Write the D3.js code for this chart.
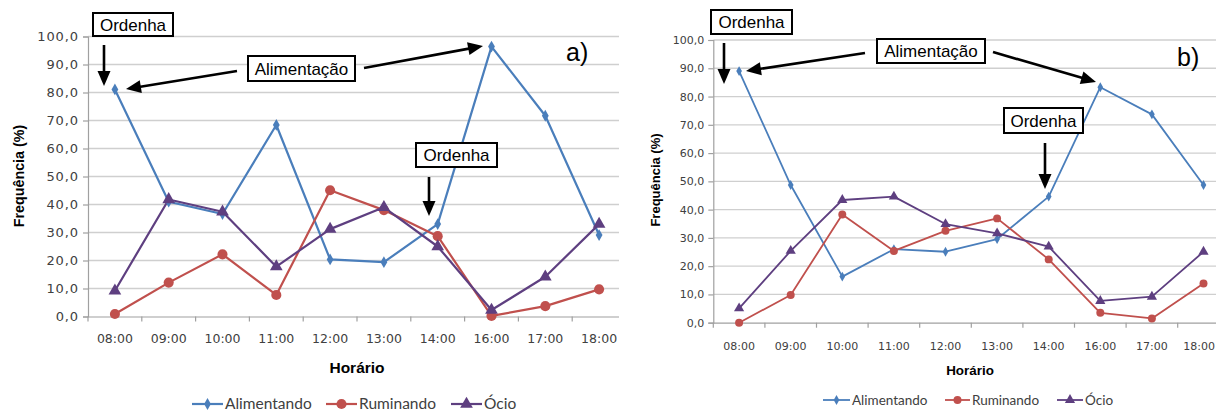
<!DOCTYPE html>
<html><head><meta charset="utf-8">
<script src="https://cdn.jsdelivr.net/npm/d3@7"></script>
<style>
body{margin:0;background:#fff;}
svg{display:block;}
</style></head>
<body>
<svg id="c" width="1216" height="412"></svg>
<script>
const categories = ["08:00","09:00","10:00","11:00","12:00","13:00","14:00","16:00","17:00","18:00"];
const yTicks = [0,10,20,30,40,50,60,70,80,90,100];
const seriesNames = ["Alimentando","Ruminando","Ócio"];
const alimentandoA = [81.1, 41.0, 36.6, 68.4, 20.4, 19.4, 33.0, 96.4, 71.7, 29.1];
const ruminandoA   = [0.9, 12.1, 22.2, 7.7, 45.1, 38.0, 28.7, 0.2, 3.7, 9.7];
const ocioA        = [9.2, 41.8, 37.4, 17.8, 31.2, 39.0, 25.0, 2.3, 14.2, 33.0];
const alimentandoB = [89.0, 48.7, 16.3, 26.0, 25.1, 29.6, 44.6, 83.3, 73.7, 48.7];
const ruminandoB   = [0.0, 9.8, 38.3, 25.4, 32.5, 36.9, 22.4, 3.5, 1.5, 13.9];
const ocioB        = [5.1, 25.4, 43.4, 44.6, 34.9, 31.6, 26.9, 7.7, 9.2, 25.1];

const colors = ["#4a7ebb","#c0504d","#5e3f80"];
const shapes = [d3.symbolDiamond, d3.symbolCircle, d3.symbolTriangle];
const svg = d3.select("#c");

function drawChart(cfg){
  const g = svg.append("g");
  if (cfg.clip){
    const id = "clip"+cfg.name;
    svg.append("defs").append("clipPath").attr("id",id).append("rect")
      .attr("x",cfg.clip[0]).attr("y",0).attr("width",cfg.clip[1]-cfg.clip[0]).attr("height",412);
    g.attr("clip-path",`url(#${id})`);
  }
  const x = d3.scaleBand().domain(categories).range([cfg.x0, cfg.x1]);
  const y = d3.scaleLinear().domain([0,100]).range([cfg.y0, cfg.y1]);
  g.append("g").selectAll("line").data(yTicks.filter(t=>t>0)).join("line")
    .attr("x1",cfg.x0).attr("x2",cfg.x1).attr("y1",d=>y(d)).attr("y2",d=>y(d))
    .attr("stroke","#cfcfcf").attr("stroke-width",1.3);
  const ya = g.append("g").attr("transform",`translate(${cfg.x0},0)`)
    .call(d3.axisLeft(y).tickValues(yTicks).tickSize(5).tickPadding(cfg.yPad)
      .tickFormat(d=>d3.format(".1f")(d).replace(".",",")));
  ya.select(".domain").attr("stroke","#a0a0a0").attr("stroke-width",1.2);
  ya.selectAll(".tick line").attr("stroke","#a0a0a0").attr("stroke-width",1.2);
  ya.selectAll("text").attr("font-family","DejaVu Sans").attr("font-size",cfg.yFont)
    .attr("letter-spacing",cfg.yLs).attr("fill","#404040");
  const xa = g.append("g").attr("transform",`translate(0,${cfg.y0})`)
    .call(d3.axisBottom(x).tickSize(0).tickPadding(cfg.xPad));
  xa.select(".domain").attr("stroke","#a0a0a0").attr("stroke-width",1.2);
  xa.selectAll("text").attr("font-family","DejaVu Sans").attr("font-size",cfg.xFont).attr("fill","#404040");
  // keep the last tick label inside the page
  xa.selectAll(".tick").each(function(d){
    const t = d3.select(this).select("text");
    const tx = x(d) + x.bandwidth()/2;
    const w = t.node().getComputedTextLength();
    if (tx + w/2 > 1215) t.attr("text-anchor","end").attr("x", 1215 - tx);
  });
  g.append("g").selectAll("line").data(categories).join("line")
    .attr("x1",d=>x(d)).attr("x2",d=>x(d)).attr("y1",cfg.y0).attr("y2",cfg.y0+5)
    .attr("stroke","#a0a0a0").attr("stroke-width",1.2);
  const line = d3.line().x((d,i)=>x(categories[i])+x.bandwidth()/2).y(d=>y(d));
  cfg.series.forEach((s,k)=>{
    g.append("path").datum(s).attr("d",line).attr("fill","none")
      .attr("stroke",colors[k]).attr("stroke-width",cfg.lw).attr("stroke-linejoin","round");
  });
  cfg.series.forEach((s,k)=>{
    g.append("g").selectAll("path").data(s).join("path")
      .attr("transform",(d,i)=>`translate(${x(categories[i])+x.bandwidth()/2},${y(d)})`)
      .attr("d",d3.symbol().type(shapes[k]).size(cfg.msize[k]))
      .attr("fill",colors[k]);
  });
  svg.append("text").attr("transform",`translate(${cfg.ytX},${cfg.ytY}) rotate(-90)`)
    .attr("text-anchor","middle").attr("font-family","Liberation Sans, Arial").attr("font-weight","bold")
    .attr("font-size",cfg.ytFont).text("Frequência (%)");
  svg.append("text").attr("x",cfg.xtX).attr("y",cfg.xtY)
    .attr("text-anchor","middle").attr("font-family","Liberation Sans, Arial").attr("font-weight","bold")
    .attr("font-size",cfg.xtFont).text("Horário");
  const lg = svg.append("g");
  cfg.legend.forEach((it,k)=>{
    lg.append("line").attr("x1",it[0]).attr("x2",it[1]).attr("y1",cfg.legY).attr("y2",cfg.legY)
      .attr("stroke",colors[k]).attr("stroke-width",cfg.lw);
    lg.append("path").attr("transform",`translate(${(it[0]+it[1])/2},${cfg.legY})`)
      .attr("d",d3.symbol().type(shapes[k]).size(cfg.msize[k])).attr("fill",colors[k]);
    lg.append("text").attr("x",it[1]+2).attr("y",cfg.legY+cfg.legDy)
      .attr("font-family","Lato, Open Sans").attr("font-size",cfg.legFont).attr("fill","#404040")
      .text(seriesNames[k]);
  });
  svg.append("text").attr("x",cfg.label[0]).attr("y",cfg.label[1])
    .attr("font-family","Liberation Sans, Arial").attr("font-size",cfg.label[3]).text(cfg.label[2]);
  cfg.boxes.forEach(b=>{
    svg.append("rect").attr("x",b[0]).attr("y",b[1]).attr("width",b[2]-b[0]).attr("height",b[3]-b[1])
      .attr("fill","#fff").attr("stroke","#000").attr("stroke-width",2);
    svg.append("text").attr("x",(b[0]+b[2])/2).attr("y",(b[1]+b[3])/2+6)
      .attr("text-anchor","middle").attr("font-family","Liberation Sans, Arial")
      .attr("font-size",17).text(b[4]);
  });
  cfg.arrows.forEach(a=>arrow(a[0],a[1],a[2],a[3]));
}

function arrow(x1,y1,x2,y2){
  const L=15, W=6.5;
  const dx=x2-x1, dy=y2-y1, len=Math.hypot(dx,dy), ux=dx/len, uy=dy/len;
  const bx=x2-ux*L, by=y2-uy*L;
  svg.append("line").attr("x1",x1).attr("y1",y1).attr("x2",bx+ux*2).attr("y2",by+uy*2)
    .attr("stroke","#000").attr("stroke-width",2.6);
  svg.append("path").attr("d",`M${x2},${y2}L${bx-uy*W},${by+ux*W}L${bx+uy*W},${by-ux*W}Z`).attr("fill","#000");
}

drawChart({
  name:"A", clip:[0,619], x0:88, x1:626, y0:316.5, y1:36.5,
  series:[alimentandoA, ruminandoA, ocioA],
  yFont:13, yLs:0.9, yPad:4, xFont:12.5, xPad:18, lw:2.2, msize:[40,80,70],
  ytX:24, ytY:176, ytFont:14.3, xtX:357, xtY:373, xtFont:15.5,
  legY:404, legDy:5, legFont:15.5, legend:[[192,223],[326,357],[451,482]],
  label:[566,61,"a)",25],
  boxes:[[93,13,173,36,"Ordenha"],[248,56,355,81,"Alimentação"],[416,143,497,167,"Ordenha"]],
  arrows:[[104,45,104,86],[237,71,126,89],[364,68,483,46],[429,177,429,216]]
});
drawChart({
  name:"B", clip:null, x0:713.3, x1:1229.3, y0:322.7, y1:40,
  series:[alimentandoB, ruminandoB, ocioB],
  yFont:11, yLs:0, yPad:4, xFont:11, xPad:20, lw:1.8, msize:[28,50,45],
  ytX:660, ytY:180, ytFont:13, xtX:970, xtY:375, xtFont:13.4,
  legY:400, legDy:4.5, legFont:13.5, legend:[[823,850],[945,970],[1057,1083]],
  label:[1177,66,"b)",25],
  boxes:[[711,10,792,34,"Ordenha"],[877,39,985,63,"Alimentação"],[1004,108,1083,133,"Ordenha"]],
  arrows:[[724,43,724,84],[865,53,746,71],[993,52,1096,82],[1045,143,1045,189]]
});
</script>
</body></html>
